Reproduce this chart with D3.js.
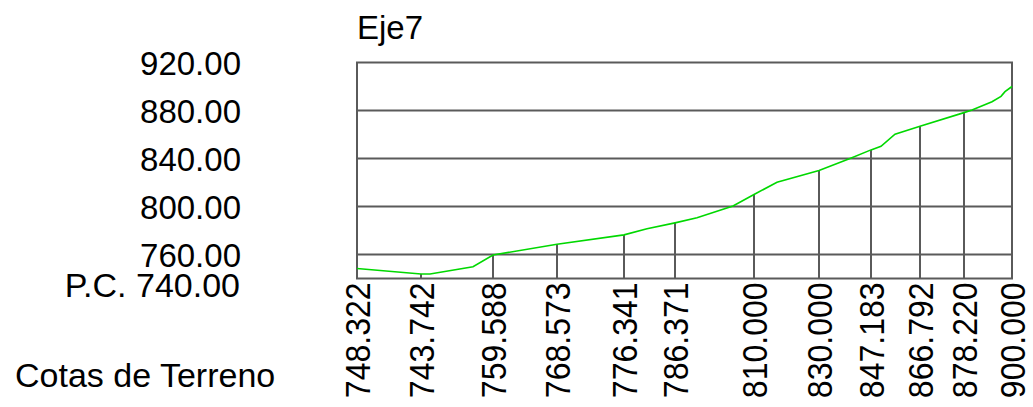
<!DOCTYPE html>
<html>
<head>
<meta charset="utf-8">
<script src="https://cdn.jsdelivr.net/npm/d3@7"></script>
<style>
  body { margin: 0; background: #fff; }
  svg { display: block; }
</style>
</head>
<body>
<svg id="chart" width="1033" height="407"></svg>
<script>
// Stations (distance along axis) where the elevation is labelled
const stations = [0, 64, 136, 200, 267, 318, 397, 462, 514, 563, 607, 655];
const stationLabels = ["748.322", "743.742", "759.588", "768.573", "776.341", "786.371",
  "810.000", "830.000", "847.183", "866.792", "878.220", "900.000"];
const stationElev = [748.322, 743.742, 759.588, 768.573, 776.341, 786.371,
  810.0, 830.0, 847.183, 866.792, 878.22, 900.0];

// Terrain profile (distance, elevation)
const profileDist = [0, 64, 73, 116, 136, 200, 267, 290, 318, 340, 376, 397, 420, 462,
  493, 514, 524, 538, 563, 607, 615, 635, 644, 648, 655];
const profileElev = [748.32, 743.74, 743.8, 749.8, 759.59, 768.57, 776.34, 781.4, 786.37,
  790.7, 800.4, 810.0, 820.2, 830.0, 840.0, 847.18, 850.2, 860.2, 866.79, 878.22,
  880.4, 887.3, 891.8, 895.7, 900.0];

const yTicks = [920, 880, 840, 800, 760];
const datum = 740; // P.C.
const title = "Eje7";
const rowLabel = "Cotas de Terreno";

const margin = { top: 62.5, left: 357, right: 21, bottom: 128.5 };
const width = 1033 - margin.left - margin.right;
const height = 407 - margin.top - margin.bottom;

const svg = d3.select("#chart");
const font = "'Liberation Sans', Arial, sans-serif";
const fontSize = 33;
const gridColor = "#5a5a5a";

const x = d3.scaleLinear().domain([0, 655]).range([0, width]);
const y = d3.scaleLinear().domain([datum, 920]).range([height, 0]);

const g = svg.append("g")
  .attr("transform", `translate(${margin.left},${margin.top})`);

// horizontal grid lines
g.append("g")
  .selectAll("line")
  .data(yTicks.filter((d) => d < 920))
  .join("line")
  .attr("x1", 0)
  .attr("x2", width)
  .attr("y1", (d) => y(d))
  .attr("y2", (d) => y(d))
  .attr("stroke", gridColor)
  .attr("stroke-width", 2);

// vertical lines from base to terrain at each station
g.append("g")
  .selectAll("line")
  .data(stations)
  .join("line")
  .attr("x1", (d) => x(d))
  .attr("x2", (d) => x(d))
  .attr("y1", height)
  .attr("y2", (d, i) => y(stationElev[i]))
  .attr("stroke", gridColor)
  .attr("stroke-width", 2);

// frame
g.append("rect")
  .attr("width", width)
  .attr("height", height)
  .attr("fill", "none")
  .attr("stroke", gridColor)
  .attr("stroke-width", 2);

// terrain line
g.append("path")
  .datum(d3.zip(profileDist, profileElev))
  .attr("fill", "none")
  .attr("stroke", "#00d800")
  .attr("stroke-width", 1.6)
  .attr("d", d3.line().x((d) => x(d[0])).y((d) => y(d[1])));

// y labels
svg.append("g")
  .selectAll("text")
  .data(yTicks)
  .join("text")
  .attr("x", 241)
  .attr("y", (d) => margin.top + y(d) + 12.5)
  .attr("text-anchor", "end")
  .attr("font-family", font)
  .attr("font-size", fontSize)
  .attr("fill", "#000")
  .text((d) => d3.format(".2f")(d));

svg.append("text")
  .attr("x", 240)
  .attr("y", margin.top + y(datum) + 18)
  .attr("text-anchor", "end")
  .attr("font-family", font)
  .attr("font-size", 34)
  .text("P.C. " + d3.format(".2f")(datum));

// title
svg.append("text")
  .attr("x", 357)
  .attr("y", 39)
  .attr("font-family", font)
  .attr("font-size", fontSize)
  .text(title);

// row label
svg.append("text")
  .attr("x", 15)
  .attr("y", 387)
  .attr("font-family", font)
  .attr("font-size", 34)
  .text(rowLabel);

// rotated station elevations (glyphs drawn a bit taller, as in the reference)
svg.append("g")
  .selectAll("text")
  .data(stations)
  .join("text")
  .attr("transform", (d) => `translate(${margin.left + x(d) + 13},${margin.top + height + 4}) rotate(-90) scale(1,1.1)`)
  .attr("text-anchor", "end")
  .attr("font-family", font)
  .attr("font-size", 32)
  .text((d, i) => stationLabels[i]);
</script>
</body>
</html>
